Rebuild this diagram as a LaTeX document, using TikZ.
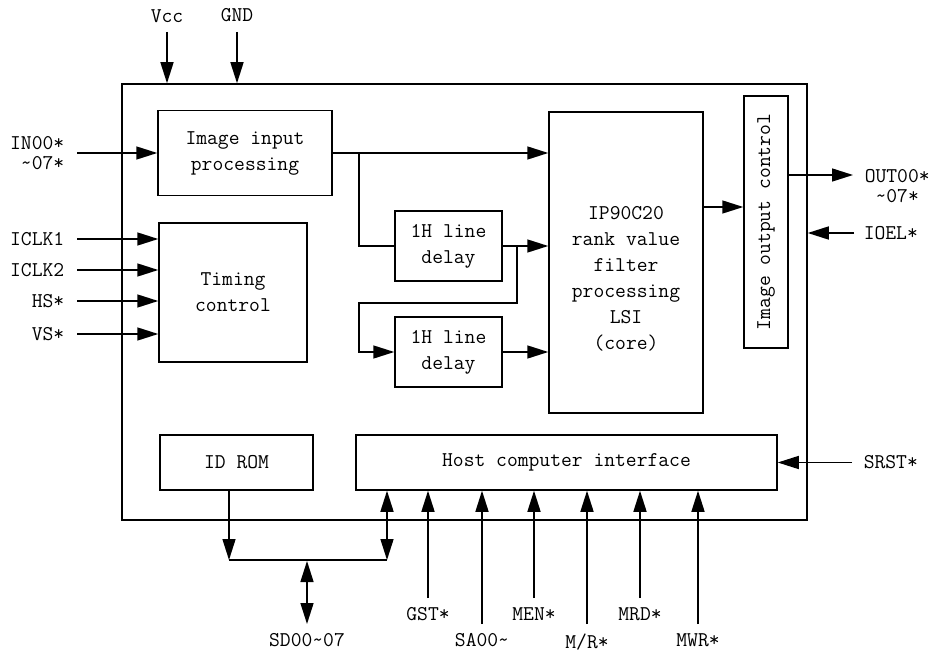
\documentclass[tikz,border=0pt]{standalone}
\usepackage{tikz}
\usetikzlibrary{arrows.meta, positioning}

\begin{document}
\begin{tikzpicture}[x=1pt, y=-1pt, line width=1.5pt,
    >={Triangle[length=21pt, width=13pt]},
    blk/.style={draw, rectangle, inner sep=0pt, align=center,
                font=\ttfamily\fontsize{21}{26}\selectfont},
    lbl/.style={inner sep=1pt, font=\ttfamily\fontsize{21}{20}\selectfont}]
    \useasboundingbox (0,0) rectangle (937,655);
    % chip outline and blocks
    \node[blk, minimum width=685pt, minimum height=436pt] (chip) at (464.5,302) {};
    \node[blk, minimum width=174pt, minimum height=85pt] (inproc) at (245,153) {Image input\\processing};
    \node[blk, minimum width=148pt, minimum height=139pt] (timing) at (233,292.5) {Timing\\control};
    \node[blk, minimum width=107pt, minimum height=70pt] (dly1) at (448.5,246) {1H line\\delay};
    \node[blk, minimum width=107pt, minimum height=70pt] (dly2) at (448.5,352) {1H line\\delay};
    \node[blk, minimum width=154pt, minimum height=301pt] (core) at (626,262.5) {};
    \node[blk, draw=none] (coretxt) at (626,279) {IP90C20\\rank value\\filter\\processing\\LSI\\(core)};
    \node[blk, minimum width=44pt, minimum height=252pt] (outctl) at (766,222) {\rotatebox{90}{Image output control}};
    \node[blk, minimum width=153pt, minimum height=55pt] (idrom) at (236.5,462.5) {ID ROM};
    \node[blk, minimum width=421pt, minimum height=55pt] (host) at (566.5,462.5) {Host computer interface};
    % supply
    \foreach \xx/\nm [count=\i] in {167/Vcc, 237/GND}{
        \coordinate (psrc\i) at (\xx,32);
        \node[lbl, above=8pt of psrc\i] (plab\i) {\nm};
        \draw[->] (psrc\i) -- (psrc\i |- chip.north);
    }
    % image input
    \coordinate (insrc) at (77,153);
    \node[lbl, align=right, left=11pt of insrc] (inlab) {IN00*\\\textasciitilde07*};
    \draw[->] (insrc) -- (inproc.west);
    % timing inputs
    \foreach \yy/\nm [count=\i] in {239/ICLK1, 270/ICLK2, 301/HS*, 334/VS*}{
        \coordinate (tsrc\i) at (77,\yy);
        \node[lbl, left=11pt of tsrc\i] (tlab\i) {\nm};
        \draw[->] (tsrc\i) -- (tsrc\i -| timing.west);
    }
    % data path
    \draw[->] (inproc.east) -- (inproc.east -| core.west);
    \coordinate (br1) at ([xshift=26pt]inproc.east);
    \draw (br1) |- (dly1.west);
    \draw[->] (dly1.east) -- (dly1.east -| core.west);
    \coordinate (br2) at ([xshift=14pt]dly1.east);
    \coordinate (br3) at (359,303);
    \draw[->] (br2) |- (br3) |- (dly2.west);
    \draw[->] (dly2.east) -- (dly2.east -| core.west);
    \draw[->] ([yshift=55.5pt]core.east) -- ([yshift=55.5pt]core.east -| outctl.west);
    % image output
    \coordinate (outend) at (853,175);
    \draw[->] ([yshift=47pt]outctl.east) -- (outend);
    \node[lbl, align=center, anchor=north west] (outlab) at ([xshift=10pt, yshift=7.5pt]outend) {OUT00*\\\textasciitilde07*};
    \coordinate (ioelsrc) at (854,233);
    \draw[->] (ioelsrc) -- (ioelsrc -| chip.east);
    \node[lbl, right=8pt of ioelsrc] (ioel) {IOEL*};
    \coordinate (srstsrc) at (852,462.5);
    \draw[->] (srstsrc) -- (host.east);
    \node[lbl, right=10pt of srstsrc] (srst) {SRST*};
    % data bus
    \coordinate (busl) at (229,560);
    \coordinate (busr) at (387,560);
    \draw[->] ([xshift=-7.5pt]idrom.south) -- (busl);
    \draw (busl) -- (busr);
    \draw[<->] (busr) -- (busr |- host.south);
    \coordinate (sdtop) at (307,561);
    \coordinate (sdbot) at (307,624);
    \draw[<->] (sdtop) -- (sdbot);
    \node[lbl, text depth=0pt, below=8pt of sdbot] (sdlab) {SD00\textasciitilde07};
    % host control inputs
    \foreach \xx/\yy/\nm [count=\i] in {428/598/GST*, 482/624/SA00\textasciitilde, 534/598/MEN*,
                                       587/624/{M/R*}, 640/598/MRD*, 698/624/MWR*}{
        \coordinate (hsrc\i) at (\xx,\yy);
        \draw[->] (hsrc\i) -- (hsrc\i |- host.south);
        \node[lbl, text depth=0pt, below=8pt of hsrc\i] (hlab\i) {\nm};
    }
\end{tikzpicture}
\end{document}
